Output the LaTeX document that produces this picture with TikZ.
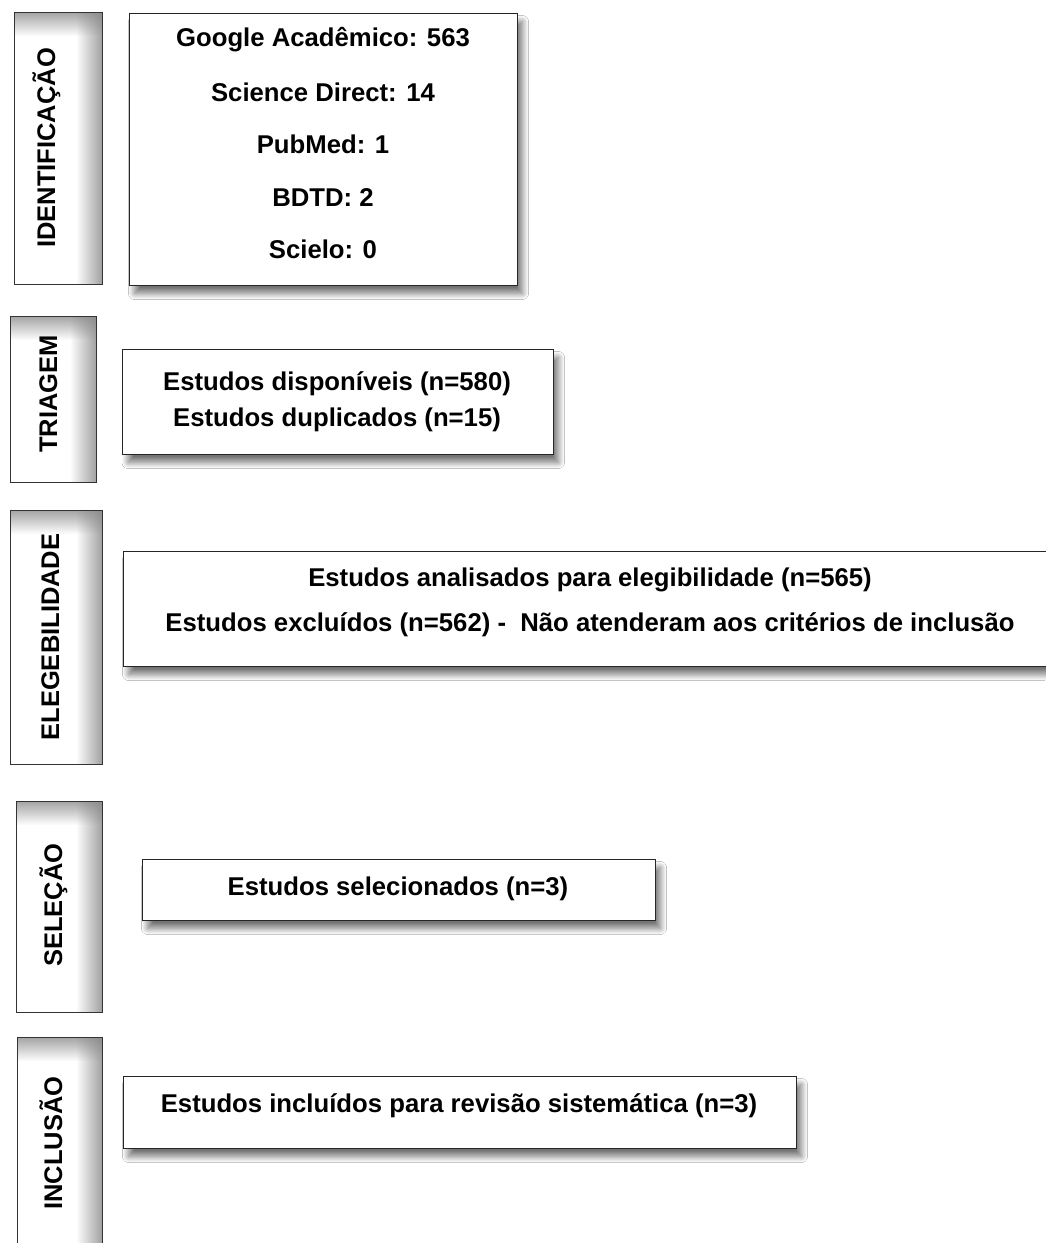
\documentclass[tikz,border=0pt]{standalone}
\usepackage{fontspec}
\setmainfont{Liberation Sans}
\usetikzlibrary{shadows.blur,fadings,fit}
\tikzfading[name=fadetop, top color=transparent!0, bottom color=transparent!100]
\tikzfading[name=faderight, right color=transparent!0, left color=transparent!100]
\tikzset{
  txt/.style={font=\bfseries\fontsize{25.7}{30}\selectfont, text=black, inner sep=0pt, anchor=base},
  lbl/.style={font=\bfseries\fontsize{25.5}{30}\selectfont, text=black, inner sep=0pt, anchor=base, rotate=90},
  lblframe/.style={draw=black!80, line width=1pt, inner sep=0pt},
  cbox/.style={draw=black!85, line width=1pt, fill=white, inner sep=0pt,
    blur shadow={shadow xshift=5.5pt, shadow yshift=-8.5pt, shadow blur radius=6pt, shadow blur steps=12, shadow opacity=55}},
  innershade/.style={fill=black!48}
}
\newcommand\lblbox[5]{%
  \begin{scope}
  \clip (#2,#3) rectangle (#4,#5);
  \fill[innershade, path fading=fadetop] (#2,#3-8) rectangle (#4,#3+24);
  \fill[innershade, path fading=faderight] (#4-26,#3) rectangle (#4+8,#5);
  \end{scope}
  \node[lblframe, fit={(#2,#3) (#4,#5)}] (#1) {};
}
\begin{document}
\begin{tikzpicture}[x=1pt,y=-1pt]
\useasboundingbox (0,0) rectangle (1045,1243);
\fill[white] (0,0) rectangle (1045,1243);

% stage labels
\lblbox{Lident}{14}{12}{102}{284}
\lblbox{Ltri}{10}{316}{96}{482}
\lblbox{Lele}{10}{510}{102}{764}
\lblbox{Lsel}{16.5}{801}{102}{1012}
\lblbox{Linc}{17}{1037}{102}{1265}

\node[lbl] (tident) at (55,148) {IDENTIFICAÇÃO};
\node[lbl] (ttri) at (57,394) {TRIAGEM};
\node[lbl] (tele) at (59,637) {ELEGEBILIDADE};
\node[lbl] (tsel) at (62,905) {SELEÇÃO};
\node[lbl] (tinc) at (62,1143) {INCLUSÃO};

% content boxes
\node[cbox, fit={(129,13) (517,285)}] (ident) {};
\node[cbox, fit={(122.5,349) (553,454)}] (tri) {};
\node[cbox, fit={(123,551) (1060,666)}] (ele) {};
\node[cbox, fit={(142,859) (655,920)}] (sel) {};
\node[cbox, fit={(123,1076) (796,1148)}] (inc) {};

% texts
\node[txt] (i1) at (323,46) {Google Acadêmico: 563};
\node[txt] (i2) at (323,101) {Science Direct: 14};
\node[txt] (i3) at (323,153) {PubMed: 1};
\node[txt] (i4) at (323,206) {BDTD: 2};
\node[txt] (i5) at (323,258) {Scielo: 0};

\node[txt] (r1) at (337,390) {Estudos disponíveis (n=580)};
\node[txt] (r2) at (337,426) {Estudos duplicados (n=15)};

\node[txt] (e1) at (590,586) {Estudos analisados para elegibilidade (n=565)};
\node[txt] (e2) at (590,631) {Estudos excluídos (n=562) -\ \ Não atenderam aos critérios de inclusão};

\node[txt] (s1) at (398,895) {Estudos selecionados (n=3)};

\node[txt] (n1) at (459,1112) {Estudos incluídos para revisão sistemática (n=3)};
\end{tikzpicture}
\end{document}
